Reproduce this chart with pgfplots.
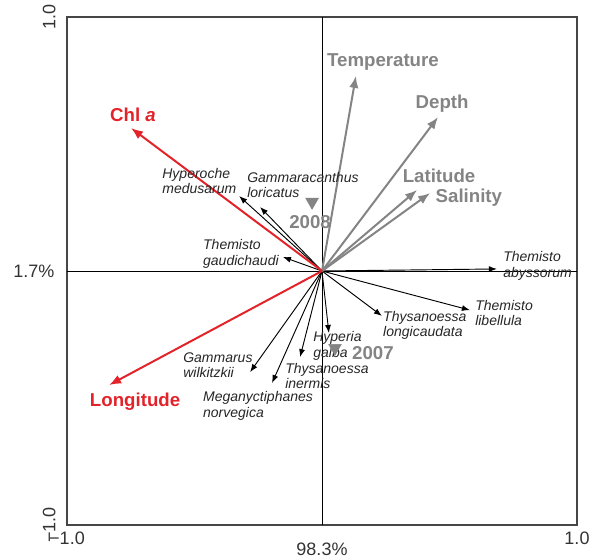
\documentclass[border=0pt]{standalone}
\usepackage{fontspec}
\setmainfont{Liberation Sans}
\usepackage{graphicx}
\usepackage{pgfplots}
\pgfplotsset{compat=1.18}
\usetikzlibrary{arrows.meta}
\definecolor{envred}{RGB}{226,35,42}
\definecolor{envgray}{RGB}{132,132,132}
\definecolor{boxgray}{RGB}{70,70,70}

\begin{document}
\begin{tikzpicture}[
  species/.style={font=\itshape\fontsize{10.5}{11.5}\selectfont, align=left, inner sep=0pt, text=black!85, anchor=west},
  envlab/.style={font=\bfseries\fontsize{14}{15}\selectfont, text=envgray, inner sep=0pt},
  redlab/.style={font=\bfseries\fontsize{14}{15}\selectfont, text=envred, inner sep=0pt},
  sp/.style={black, line width=0.7pt, -{Latex[length=6pt,width=4.5pt]}},
  ev/.style={envgray, line width=1.5pt, -{Latex[length=9pt,width=7pt]}},
  rv/.style={envred, line width=1.5pt, -{Latex[length=9pt,width=7pt]}},
]
\begin{axis}[
  scale only axis, width=382.5pt, height=381pt,
  xmin=-1, xmax=1, ymin=-1, ymax=1,
  axis line style={boxgray, line width=1pt},
  major tick length=0pt,
  xtick={-1,1}, xticklabels={−1.0,1.0},
  ytick={-1,1}, yticklabels={\rotatebox{90}{−1.0},\rotatebox{90}{1.0}},
  tick label style={font=\fontsize{13.5}{13.5}\selectfont, text=black!80},
  xticklabel style={yshift=-2pt},
  yticklabel style={xshift=-5pt},
  extra x ticks={0}, extra x tick labels={98.3\%},
  extra x tick style={xticklabel style={yshift=-8pt}},
  extra y ticks={0}, extra y tick labels={1.7\%},
  extra y tick style={yticklabel style={xshift=-1pt}},
  clip=false,
]
% zero lines
\addplot[black, line width=0.7pt] coordinates {(-1,0) (1,0)};
\addplot[black, line width=0.7pt] coordinates {(0,-1) (0,1)};

% species vectors
\addplot[sp] coordinates {(0,0) (0.686,0.008)};   % Themisto abyssorum
\addplot[sp] coordinates {(0,0) (0.580,-0.154)};  % Themisto libellula
\addplot[sp] coordinates {(0,0) (0.235,-0.177)};  % Thysanoessa longicaudata
\addplot[sp] coordinates {(0,0) (0.027,-0.244)};  % Hyperia galba
\addplot[sp] coordinates {(0,0) (-0.086,-0.339)}; % Thysanoessa inermis
\addplot[sp] coordinates {(0,0) (-0.196,-0.441)}; % Meganyctiphanes norvegica
\addplot[sp] coordinates {(0,0) (-0.282,-0.398)}; % Gammarus wilkitzkii
\addplot[sp] coordinates {(0,0) (-0.325,0.295)};  % Hyperoche medusarum
\addplot[sp] coordinates {(0,0) (-0.243,0.252)};  % Gammaracanthus loricatus
\addplot[sp] coordinates {(0,0) (-0.153,0.055)};  % Themisto gaudichaudi

% environmental vectors
\addplot[ev] coordinates {(0,0) (0.133,0.768)};   % Temperature
\addplot[ev] coordinates {(0,0) (0.455,0.606)};   % Depth
\addplot[ev] coordinates {(0,0) (0.373,0.319)};   % Latitude
\addplot[ev] coordinates {(0,0) (0.424,0.307)};   % Salinity
\addplot[rv] coordinates {(0,0) (-0.749,0.563)};  % Chl a
\addplot[rv] coordinates {(0,0) (-0.835,-0.449)}; % Longitude

% year centroids
\addplot[only marks, mark=triangle*, mark size=5.5pt,
  mark options={rotate=180, fill=envgray, draw=envgray}]
  coordinates {(-0.039,0.272) (0.051,-0.303)};

% labels
\node[redlab] at (axis cs:-0.741,0.614) {Chl \textit{a}};
\node[redlab] at (axis cs:-0.733,-0.516) {Longitude};
\node[envlab] at (axis cs:0.239,0.823) {Temperature};
\node[envlab] at (axis cs:0.471,0.657) {Depth};
\node[envlab] at (axis cs:0.459,0.374) {Latitude};
\node[envlab] at (axis cs:0.576,0.287) {Salinity};
\node[envlab] at (axis cs:-0.047,0.193) {2008};
\node[envlab] at (axis cs:0.200,-0.323) {2007};

\node[species] at (axis cs:0.710,0.020) {Themisto\\abyssorum};
\node[species] at (axis cs:0.600,-0.165) {Themisto\\libellula};
\node[species] at (axis cs:0.239,-0.213) {Thysanoessa\\longicaudata};
\node[species] at (axis cs:-0.035,-0.295) {Hyperia\\galba};
\node[species] at (axis cs:-0.145,-0.413) {Thysanoessa\\inermis};
\node[species] at (axis cs:-0.467,-0.531) {Meganyctiphanes\\norvegica};
\node[species] at (axis cs:-0.545,-0.370) {Gammarus\\wilkitzkii};
\node[species] at (axis cs:-0.627,0.354) {Hyperoche\\medusarum};
\node[species] at (axis cs:-0.294,0.339) {Gammaracanthus\\loricatus};
\node[species] at (axis cs:-0.467,0.067) {Themisto\\gaudichaudi};
\end{axis}
\pgfresetboundingbox
\path[use as bounding box] ([shift={(-50.25pt,-26.25pt)}]current axis.south west)
  rectangle ([shift={(17.25pt,12.75pt)}]current axis.north east);
\end{tikzpicture}
\end{document}
